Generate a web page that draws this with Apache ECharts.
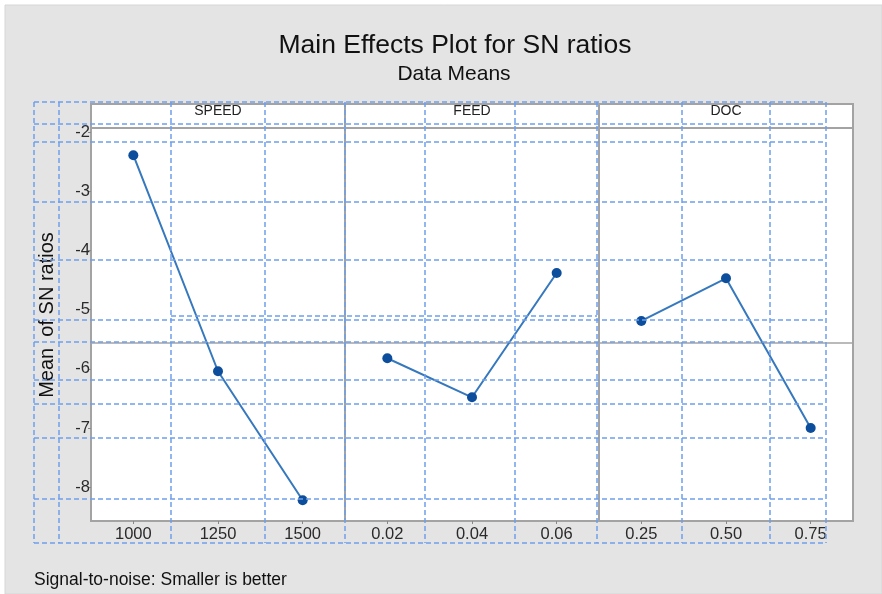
<!DOCTYPE html>
<html>
<head>
<meta charset="utf-8">
<script src="https://cdn.jsdelivr.net/npm/echarts@6/dist/echarts.min.js"></script>
<style>
    html, body { margin: 0; padding: 0; background: #fff; }
    #chart { width: 882px; height: 594px; }
</style>
</head>
<body>
<div id="chart"></div>
<script>
// 数据
var panelNames = ['SPEED', 'FEED', 'DOC'];
var speedLevels = ['1000', '1250', '1500'];
var feedLevels = ['0.02', '0.04', '0.06'];
var docLevels = ['0.25', '0.50', '0.75'];
var speedMeans = [-2.39, -6.04, -8.22];
var feedMeans = [-5.82, -6.48, -4.38];
var docMeans = [-5.19, -4.47, -7.00];
var yTicks = [-2, -3, -4, -5, -6, -7, -8];

var levels = [speedLevels, feedLevels, docLevels];
var means = [speedMeans, feedMeans, docMeans];
// 总平均值 (参考线)
var grandMean = speedMeans.reduce(function (a, b) { return a + b; }, 0) / speedMeans.length;

// 布局
var PLOT_LEFT = 91, PANEL_W = 254, PLOT_TOP = 128, PLOT_H = 393, HEAD_TOP = 104;
var FRAME = '#a3a3a3';
var FONT = 'Liberation Sans, Arial, sans-serif';

// 叠加的虚线框 (原图里的选区线)
var dashX = [34, 59, 171, 265, 345, 425, 515, 597, 682, 770, 826];
var dashY = [102, 124, 142, 202, 260, 320, 342, 380, 404, 438, 499, 543];

var chart = echarts.init(document.getElementById('chart'));

var grids = [], xAxes = [], yAxes = [], series = [], graphics = [];

panelNames.forEach(function (name, i) {
    grids.push({
        left: PLOT_LEFT + i * PANEL_W, top: PLOT_TOP, width: PANEL_W, height: PLOT_H,
        show: true, backgroundColor: '#fff', borderColor: FRAME, borderWidth: 2
    });
    xAxes.push({
        type: 'category', gridIndex: i, data: levels[i], boundaryGap: true,
        axisLine: { show: false },
        axisTick: { show: true, alignWithLabel: true, interval: 0, length: 3, lineStyle: { color: '#888' } },
        axisLabel: { fontSize: 16.5, color: '#2a2a2a', margin: 5, fontFamily: FONT, interval: 0 },
        splitLine: { show: false }
    });
    yAxes.push({
        type: 'value', gridIndex: i, min: -8.57, max: -1.93,
        axisLine: { show: false },
        axisTick: { show: i === 0, customValues: yTicks, length: 3, lineStyle: { color: '#888' } },
        axisLabel: { show: i === 0, customValues: yTicks, fontSize: 16.5, color: '#2a2a2a', margin: 1, fontFamily: FONT },
        splitLine: { show: false }
    });
    series.push({
        type: 'line', xAxisIndex: i, yAxisIndex: i, data: means[i],
        symbol: 'circle', symbolSize: 10,
        itemStyle: { color: '#0c4e9c' },
        lineStyle: { color: '#3678bd', width: 2 },
        z: 5,
        markLine: {
            silent: true, symbol: 'none', animation: false,
            label: { show: false },
            lineStyle: { color: FRAME, type: 'solid', width: 1.5 },
            data: [{ yAxis: grandMean }]
        }
    });
    // 顶部标签栏
    graphics.push({
        type: 'rect', z: 1,
        shape: { x: PLOT_LEFT + i * PANEL_W, y: HEAD_TOP, width: PANEL_W, height: PLOT_TOP - HEAD_TOP },
        style: { fill: '#fff', stroke: FRAME, lineWidth: 2 }
    });
    graphics.push({
        type: 'text', z: 2,
        x: PLOT_LEFT + i * PANEL_W + PANEL_W / 2, y: 111,
        style: { text: name, fontSize: 14, fill: '#222', fontFamily: FONT, align: 'center', verticalAlign: 'middle' }
    });
});

// 背景
graphics.unshift({
    type: 'rect', z: -10, silent: true,
    shape: { x: 5, y: 5, width: 877, height: 589 },
    style: { fill: '#e4e4e4', stroke: '#d6d6d6', lineWidth: 1 }
});

// Y轴标题
graphics.push({
    type: 'text', z: 2, x: 47, y: 315, rotation: Math.PI / 2,
    style: { text: 'Mean  of SN ratios', fontSize: 20, fill: '#111', fontFamily: FONT, align: 'center', verticalAlign: 'middle' }
});

// 虚线
dashX.forEach(function (x) {
    graphics.push({
        type: 'line', z: 100, silent: true,
        shape: { x1: x, y1: dashY[0], x2: x, y2: dashY[dashY.length - 1] },
        style: { stroke: '#6d9eeb', lineWidth: 1.5, lineDash: [5, 3] }
    });
});
dashY.forEach(function (y) {
    graphics.push({
        type: 'line', z: 100, silent: true,
        shape: { x1: dashX[0], y1: y, x2: dashX[dashX.length - 1], y2: y },
        style: { stroke: '#6d9eeb', lineWidth: 1.5, lineDash: [5, 3] }
    });
});
graphics.push({
    type: 'line', z: 100, silent: true,
    shape: { x1: 171, y1: 316, x2: 597, y2: 316 },
    style: { stroke: '#6d9eeb', lineWidth: 1.5, lineDash: [5, 3] }
});

chart.setOption({
    animation: false,
    backgroundColor: '#fff',
    title: [
        { text: 'Main Effects Plot for SN ratios', left: 450, top: 27, textAlign: 'center',
          textStyle: { fontSize: 26.5, fontWeight: 'normal', color: '#111', fontFamily: FONT } },
        { text: 'Data Means', left: 449, top: 59, textAlign: 'center',
          textStyle: { fontSize: 21, fontWeight: 'normal', color: '#111', fontFamily: FONT } },
        { text: 'Signal-to-noise: Smaller is better', left: 29, top: 566,
          textStyle: { fontSize: 17.5, fontWeight: 'normal', color: '#111', fontFamily: FONT } }
    ],
    grid: grids,
    xAxis: xAxes,
    yAxis: yAxes,
    series: series,
    graphic: graphics
});
</script>
</body>
</html>
